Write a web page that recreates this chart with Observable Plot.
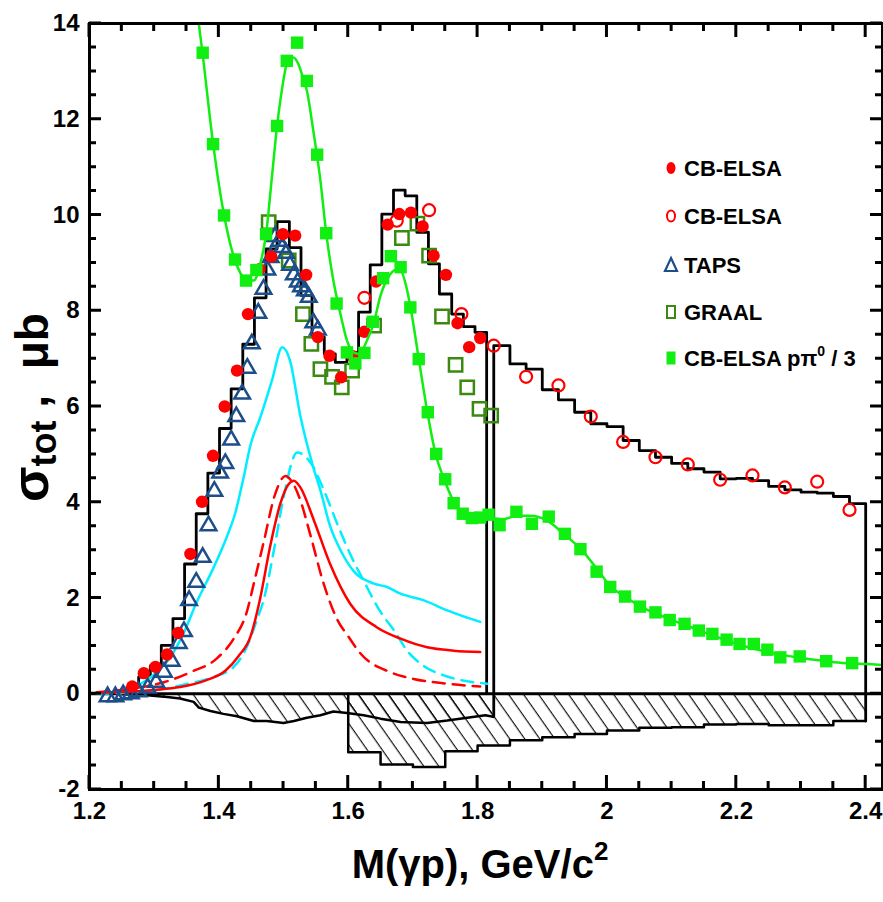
<!DOCTYPE html>
<html><head><meta charset="utf-8">
<script src="https://cdn.jsdelivr.net/npm/d3@7"></script>
<script src="https://cdn.jsdelivr.net/npm/@observablehq/plot@0.6"></script>
<style>
body{margin:0;background:#fff;}
#wrap{position:relative;width:883px;height:902px;}
</style></head><body><div id="wrap"></div>
<script>
// ---------- data ----------
const xTickLabels = [1.2, 1.4, 1.6, 1.8, 2.0, 2.2, 2.4];
const yTickLabels = [-2, 0, 2, 4, 6, 8, 10, 12, 14];

// black histogram (low mass part)
const histLoEdges = [1.222,1.240,1.258,1.276,1.294,1.311,1.329,1.347,1.365,1.383,1.401,1.419,1.437,1.455,1.473,1.490,1.509,1.527,1.544,1.563,1.580,1.598,1.616,1.634,1.652,1.670,1.688,1.706,1.724,1.741,1.760,1.778,1.796,1.814];
const histLoValues = [0.02,0.06,0.14,0.35,0.58,1.01,1.57,2.71,3.76,4.61,5.54,6.37,7.30,8.27,9.29,9.86,9.32,8.32,7.45,7.10,6.92,7.13,7.97,8.96,10.02,10.52,10.40,9.64,8.98,8.35,7.93,7.67,7.55];
// black histogram (high mass part)
const histHiEdges = [1.825,1.850,1.875,1.900,1.925,1.950,1.975,2.000,2.025,2.050,2.075,2.100,2.125,2.150,2.175,2.200,2.225,2.250,2.275,2.300,2.325,2.350,2.375,2.400];
const histHiValues = [7.27,6.89,6.78,6.35,6.14,5.88,5.64,5.58,5.29,5.08,4.94,4.81,4.70,4.63,4.49,4.50,4.45,4.33,4.26,4.21,4.19,4.12,3.97];
const histHiStart = -0.48, histHiEnd = -0.57;

// systematic error bands (hatched)
const sysAM = [1.240,1.252,1.289,1.320,1.340,1.361,1.369,1.387,1.407,1.428,1.454,1.474,1.500,1.516,1.536,1.557,1.577,1.598,1.624,1.650,1.681,1.722,1.753,1.784,1.812,1.824];
const sysAV = [0.0,-0.01,-0.03,-0.07,-0.10,-0.17,-0.29,-0.36,-0.42,-0.47,-0.57,-0.57,-0.61,-0.57,-0.50,-0.45,-0.37,-0.40,-0.45,-0.52,-0.59,-0.61,-0.56,-0.50,-0.45,-0.48];
const sysBEdges = [1.60,1.65,1.70,1.75,1.80,1.85,1.90,1.95,2.00,2.05,2.10,2.15,2.20,2.25,2.30,2.35,2.40];
const sysBValues = [-1.22,-1.48,-1.53,-1.20,-1.08,-0.97,-0.91,-0.84,-0.77,-0.71,-0.70,-0.64,-0.63,-0.66,-0.66,-0.57];

// CB-ELSA (filled circles)
const cbM = [1.266,1.284,1.302,1.320,1.337,1.356,1.374,1.391,1.409,1.428,1.445,1.463,1.481,1.499,1.518,1.535,1.553,1.571,1.589,1.607,1.625,1.643,1.661,1.679,1.697,1.715,1.732,1.751,1.769,1.787,1.804];
const cbV = [0.15,0.43,0.56,0.82,1.27,2.92,4.01,4.97,6.00,6.75,7.93,8.87,9.13,9.60,9.57,8.75,7.45,7.06,6.61,7.05,7.56,8.61,9.80,10.02,10.05,9.76,9.15,8.75,7.74,7.24,7.43];
// CB-ELSA (open circles)
const cb2M = [1.625,1.675,1.725,1.775,1.825,1.875,1.925,1.975,2.025,2.075,2.125,2.175,2.225,2.275,2.325,2.375];
const cb2V = [8.27,9.88,10.10,7.93,7.27,6.62,6.44,5.79,5.26,4.94,4.79,4.47,4.56,4.31,4.43,3.84];
// TAPS (triangles)
const tapsM = [1.228,1.240,1.252,1.264,1.276,1.290,1.303,1.315,1.327,1.338,1.346,1.354,1.365,1.375,1.384,1.393,1.402,1.410,1.419,1.427,1.436,1.444,1.451,1.461,1.469,1.475,1.480,1.487,1.493,1.498,1.504,1.510,1.516,1.522,1.527,1.533,1.539,1.546,1.553];
const tapsV = [-0.06,-0.06,-0.02,0.00,0.04,0.12,0.24,0.45,0.68,1.05,1.30,1.95,2.33,2.85,3.51,4.23,4.61,4.81,5.30,5.79,6.26,6.80,7.31,7.95,8.45,8.85,9.11,9.55,9.45,9.32,9.20,8.95,8.75,8.60,8.50,8.42,8.28,7.75,7.60];
// GRAAL (open squares)
const graalM = [1.477,1.508,1.530,1.543,1.557,1.575,1.590,1.606,1.640,1.683,1.707,1.725,1.745,1.766,1.784,1.803,1.821];
const graalV = [9.85,9.05,7.93,7.31,6.78,6.62,6.40,6.75,7.69,9.52,9.82,9.15,7.88,6.87,6.40,5.95,5.81];
// CB-ELSA p pi0 / 3 (filled squares)
const pi0M = [1.375,1.391,1.408,1.425,1.442,1.458,1.473,1.490,1.505,1.521,1.536,1.552,1.566,1.582,1.598,1.611,1.625,1.638,1.654,1.666,1.681,1.696,1.709,1.723,1.736,1.750,1.763,1.777,1.791,1.804,1.817,1.834,1.860,1.884,1.910,1.935,1.959,1.984,2.005,2.028,2.051,2.075,2.097,2.120,2.142,2.163,2.185,2.205,2.227,2.248,2.268,2.298,2.339,2.379];
const pi0V = [13.39,11.48,9.99,9.07,8.63,8.85,9.60,11.86,13.22,13.60,12.80,11.26,9.62,8.15,7.13,6.90,7.12,7.77,8.68,9.14,8.91,8.07,6.99,5.88,5.01,4.48,3.98,3.76,3.67,3.68,3.74,3.52,3.80,3.55,3.70,3.34,3.02,2.55,2.23,2.03,1.82,1.70,1.54,1.46,1.32,1.25,1.13,1.04,1.04,0.92,0.76,0.78,0.68,0.64];
// fit curve through p pi0 / 3
const fitM = [1.369,1.375,1.391,1.408,1.425,1.442,1.454,1.464,1.473,1.482,1.490,1.498,1.505,1.515,1.523,1.530,1.536,1.546,1.557,1.566,1.577,1.588,1.598,1.608,1.617,1.629,1.639,1.650,1.662,1.673,1.681,1.690,1.699,1.709,1.722,1.735,1.748,1.760,1.773,1.789,1.804,1.822,1.840,1.861,1.882,1.907,1.933,1.959,1.990,2.005,2.028,2.051,2.093,2.144,2.196,2.248,2.299,2.351,2.402,2.426];
const fitV = [14.0,13.35,11.5,10.0,9.05,8.66,8.63,8.98,9.6,10.79,11.86,12.66,13.15,13.29,13.15,12.87,12.6,11.76,10.72,9.62,8.63,7.93,7.38,7.13,7.10,7.38,7.72,8.32,8.70,8.85,8.84,8.49,7.86,7.0,5.91,5.01,4.49,4.10,3.83,3.72,3.69,3.67,3.65,3.72,3.72,3.62,3.34,3.03,2.51,2.25,2.03,1.83,1.58,1.32,1.06,0.87,0.75,0.66,0.62,0.60];

// model curves
const cyanM = [1.247,1.268,1.284,1.304,1.325,1.345,1.366,1.392,1.413,1.425,1.438,1.449,1.464,1.482,1.498,1.510,1.526,1.546,1.557,1.572,1.590,1.609,1.640,1.660,1.681,1.717,1.753,1.784,1.804];
const cyanV = [0.0,0.12,0.25,0.45,0.76,1.25,1.92,2.64,3.30,3.76,4.50,5.20,5.77,6.54,7.24,6.96,5.80,4.73,4.25,3.50,2.95,2.55,2.30,2.23,2.09,1.95,1.74,1.59,1.50];
const cyanDashM = [1.211,1.299,1.356,1.392,1.423,1.443,1.459,1.469,1.485,1.500,1.521,1.544,1.563,1.583,1.603,1.625,1.648,1.672,1.691,1.717,1.753,1.784,1.815];
const cyanDashV = [0.0,0.07,0.22,0.35,0.56,0.97,1.55,1.95,2.99,4.10,5.04,4.78,4.23,3.55,2.92,2.33,1.75,1.30,0.90,0.58,0.36,0.26,0.21];
const redM = [1.215,1.260,1.300,1.340,1.380,1.410,1.430,1.449,1.464,1.479,1.495,1.508,1.516,1.526,1.547,1.572,1.603,1.644,1.681,1.722,1.763,1.804];
const redV = [0.02,0.04,0.08,0.14,0.28,0.48,0.78,1.20,2.00,3.06,3.97,4.38,4.45,4.31,3.62,2.71,1.88,1.39,1.15,0.97,0.90,0.87];
const redDashM = [1.211,1.260,1.315,1.356,1.397,1.423,1.443,1.454,1.469,1.487,1.503,1.512,1.526,1.541,1.562,1.583,1.600,1.619,1.665,1.701,1.753,1.804];
const redDashV = [0.03,0.10,0.24,0.45,0.74,1.15,1.70,2.30,3.15,4.17,4.55,4.45,4.04,3.34,2.30,1.55,1.20,0.84,0.45,0.31,0.21,0.15];

const legendLabels = ["CB-ELSA", "CB-ELSA", "TAPS", "GRAAL", "CB-ELSA pπ0 / 3"];

// ---------- colours ----------
const RED = "#ff0000", CYAN = "#00eeff", GREEN = "#11ee11", GRAAL_C = "#3a8a12", TAPS_C = "#1d4e89";

// ---------- layout ----------
const W = 883, H = 902, ML = 89, MR = 1, MT = 23, MB = 113;
const X_DOM = [1.2, 2.426], Y_DOM = [-2, 14];

// ---------- helpers ----------
const pts = (xs, ys) => xs.map((x, i) => ({x, y: ys[i]}));
function histLine(edges, vals, startY, endY) {
  const out = [{x: edges[0], y: startY}];
  vals.forEach((v, i) => out.push({x: edges[i], y: v}));
  out.push({x: edges[edges.length - 1], y: vals[vals.length - 1]});
  out.push({x: edges[edges.length - 1], y: endY});
  return out;
}
const stepArea = (edges, vals) => edges.map((e, i) => ({x: e, y: vals[Math.min(i, vals.length - 1)]}));

const xMinor = d3.range(25, 49).map(i => i / 20).filter(v => !xTickLabels.some(t => Math.abs(t - v) < 1e-6));
const yMinor = d3.range(-3, 28).map(i => i / 2).filter(v => !yTickLabels.includes(v));

const FONT = "'Liberation Sans', Arial, Helvetica, sans-serif";

const plot = Plot.plot({
  width: W, height: H,
  marginLeft: ML, marginRight: MR, marginTop: MT, marginBottom: MB,
  x: {domain: X_DOM},
  y: {domain: Y_DOM},
  style: {fontFamily: FONT, fontWeight: "bold", fontSize: "24px", background: "white", color: "black", overflow: "visible"},
  marks: [
    // hatched systematic bands
    Plot.areaY(pts(sysAM, sysAV), {x: "x", y1: 0, y2: "y", fill: "url(#hatch)", className: "hatch"}),
    Plot.areaY(stepArea(sysBEdges, sysBValues), {x: "x", y1: 0, y2: "y", curve: "step-after", fill: "url(#hatch)", className: "hatch"}),
    Plot.line(pts(sysAM, sysAV), {x: "x", y: "y", stroke: "black", strokeWidth: 2.5}),
    Plot.line(histLine(sysBEdges, sysBValues, 0, histHiEnd), {x: "x", y: "y", curve: "step-after", stroke: "black", strokeWidth: 2.5}),
    Plot.ruleY([0], {stroke: "black", strokeWidth: 3}),
    // histograms
    Plot.line(histLine(histLoEdges, histLoValues, 0, 0), {x: "x", y: "y", curve: "step-after", stroke: "black", strokeWidth: 2.8}),
    Plot.line(histLine(histHiEdges, histHiValues, histHiStart, histHiEnd), {x: "x", y: "y", curve: "step-after", stroke: "black", strokeWidth: 2.8}),
    // model curves
    Plot.line(pts(cyanM, cyanV), {x: "x", y: "y", stroke: CYAN, strokeWidth: 2.5, curve: "monotone-x"}),
    Plot.line(pts(cyanDashM, cyanDashV), {x: "x", y: "y", stroke: CYAN, strokeWidth: 2.5, strokeDasharray: "12,8", curve: "monotone-x"}),
    Plot.line(pts(redM, redV), {x: "x", y: "y", stroke: RED, strokeWidth: 2.5, curve: "monotone-x"}),
    Plot.line(pts(redDashM, redDashV), {x: "x", y: "y", stroke: RED, strokeWidth: 2.5, strokeDasharray: "12,8", curve: "monotone-x"}),
    // data points
    Plot.dot(pts(graalM, graalV), {x: "x", y: "y", symbol: "square", r: 7.5, stroke: GRAAL_C, strokeWidth: 2.5, fill: "none"}),
    Plot.dot(pts(tapsM, tapsV), {x: "x", y: "y", symbol: "triangle", r: 5.8, stroke: TAPS_C, strokeWidth: 2.5, fill: "none"}),
    Plot.dot(pts(cbM, cbV), {x: "x", y: "y", r: 6.2, fill: RED}),
    Plot.dot(pts(cb2M, cb2V), {x: "x", y: "y", r: 6, stroke: RED, strokeWidth: 2.2, fill: "none"}),
    Plot.line(pts(fitM, fitV), {x: "x", y: "y", stroke: GREEN, strokeWidth: 2.5, curve: "monotone-x", clip: true}),
    Plot.dot(pts(pi0M, pi0V), {x: "x", y: "y", symbol: "square", r: 7, fill: GREEN}),
    // axes: labels
    Plot.axisX(xTickLabels, {anchor: "bottom", tickSize: 0, tickPadding: 12, fontSize: 24, fontWeight: "bold", tickFormat: d => String(d), label: null}),
    Plot.axisY(yTickLabels, {anchor: "left", tickSize: 0, tickPadding: 10, fontSize: 24, fontWeight: "bold", tickFormat: d => String(d), label: null}),
    Plot.frame({stroke: "black", strokeWidth: 3})
  ]
});

document.getElementById("wrap").appendChild(plot);
const svgEl = plot.tagName.toLowerCase() === "svg" ? plot : plot.querySelector("svg");
const svg = d3.select(svgEl);

// inward ticks on all four sides (same linear mapping as the plot's x/y scales)
const fx = d3.scaleLinear().domain(X_DOM).range([ML, W - MR]);
const fy = d3.scaleLinear().domain(Y_DOM).range([H - MB, MT]);
const X0 = fx(X_DOM[0]), X1 = fx(X_DOM[1]), Y0 = fy(Y_DOM[0]), Y1 = fy(Y_DOM[1]);
let tickPath = "";
function xTicks(vals, len) {
  vals.forEach(v => {
    const px = fx(v);
    tickPath += `M${px},${Y0}V${Y0 - len}M${px},${Y1}V${Y1 + len}`;
  });
}
function yTicks(vals, len) {
  vals.forEach(v => {
    const py = fy(v);
    tickPath += `M${X0},${py}H${X0 + len}M${X1},${py}H${X1 - len}`;
  });
}
xTicks(xTickLabels, 14); xTicks(xMinor, 8);
yTicks(yTickLabels, 12); yTicks(yMinor, 7);
svg.append("path").attr("d", tickPath).attr("fill", "none").attr("stroke", "#000").attr("stroke-width", 3);

// hatch pattern
const defs = svg.insert("defs", ":first-child");
const pat = defs.append("pattern").attr("id", "hatch").attr("patternUnits", "userSpaceOnUse")
  .attr("width", 12.3).attr("height", 12.3).attr("patternTransform", "rotate(-35)");
pat.append("line").attr("x1", 6).attr("y1", -1).attr("x2", 6).attr("y2", 13.3).attr("stroke", "#000").attr("stroke-width", 1.1);
svg.selectAll(".hatch path").attr("fill", "url(#hatch)");

// axis titles
const xt = svg.append("text").attr("x", 480).attr("y", 878).attr("text-anchor", "middle")
  .attr("font-family", FONT).attr("font-weight", "bold").attr("font-size", 40).attr("fill", "black");
xt.append("tspan").text("M(γp), GeV/c");
xt.append("tspan").attr("font-size", 26).attr("dy", -18).text("2");

const yt = svg.append("text").attr("transform", "translate(48,502) rotate(-90)").attr("text-anchor", "start")
  .attr("font-family", FONT).attr("font-weight", "bold").attr("fill", "black").attr("font-size", 46)
  .attr("xml:space", "preserve").style("white-space", "pre");
yt.append("tspan").attr("font-size", 52).text("σ");
yt.append("tspan").attr("font-size", 36).attr("dy", 8).text("tot");
yt.append("tspan").attr("dy", -8).text(" ,  μb");

// legend
const leg = svg.append("g").attr("font-family", FONT).attr("font-weight", "bold").attr("font-size", 22).attr("text-anchor", "start");
const lx = 671, ly = [168, 216, 265, 312, 358];
leg.append("ellipse").attr("cx", lx).attr("cy", ly[0]).attr("rx", 4.5).attr("ry", 6).attr("fill", RED);
leg.append("ellipse").attr("cx", lx).attr("cy", ly[1]).attr("rx", 4).attr("ry", 5.5).attr("fill", "none").attr("stroke", RED).attr("stroke-width", 2);
leg.append("path").attr("d", `M${lx},${ly[2]-7}L${lx+6},${ly[2]+6}L${lx-6},${ly[2]+6}Z`).attr("fill", "none").attr("stroke", TAPS_C).attr("stroke-width", 2.2);
leg.append("rect").attr("x", lx - 4).attr("y", ly[3] - 6).attr("width", 8).attr("height", 12).attr("fill", "none").attr("stroke", GRAAL_C).attr("stroke-width", 2);
leg.append("rect").attr("x", lx - 4.5).attr("y", ly[4] - 6.5).attr("width", 9).attr("height", 13).attr("fill", GREEN);
legendLabels.forEach((t, i) => {
  const tx = leg.append("text").attr("x", 684).attr("y", ly[i] + 8).attr("fill", "black");
  if (i === 4) {
    tx.append("tspan").text("CB-ELSA pπ");
    tx.append("tspan").attr("font-size", 14).attr("dy", -10).text("0");
    tx.append("tspan").attr("dy", 10).text(" / 3");
  } else tx.text(t);
});
</script></body></html>
